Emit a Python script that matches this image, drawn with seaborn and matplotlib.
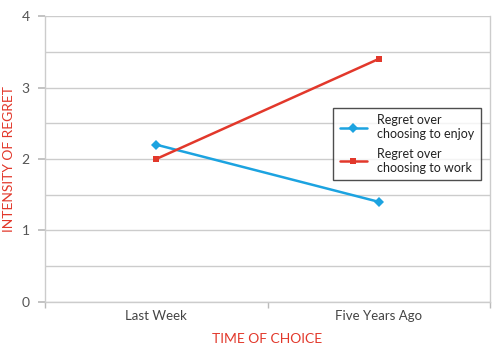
import matplotlib
matplotlib.use("Agg")
import matplotlib.pyplot as plt
import seaborn as sns
import pandas as pd

categories = ["Last Week", "Five Years Ago"]
enjoy = [2.2, 1.4]
work = [2.0, 3.4]
series_names = ["Regret over\nchoosing to enjoy", "Regret over\nchoosing to work"]
colors = ["#1CA3E0", "#E2382B"]

sns.set_theme(style="white")
plt.rcParams['font.family'] = ['Lato', 'DejaVu Sans']

rows = []
for name, vals in zip(series_names, [enjoy, work]):
    for i, (c, v) in enumerate(zip(categories, vals)):
        rows.append({"pos": i, "cat": c, "value": v, "series": name})
df = pd.DataFrame(rows)

fig = plt.figure(figsize=(5, 3.49), dpi=100)
ax = fig.add_axes([0.09, 0.135, 0.89, 0.819])

sns.lineplot(data=df, x="pos", y="value", hue="series", style="series",
             palette=colors, markers=["D", "s"], dashes=False,
             markersize=5, linewidth=1.8, markeredgewidth=0, ax=ax)

ax.set_xlim(-0.5, 1.5)
ax.set_ylim(0, 4)
ax.set_yticks([0, 1, 2, 3, 4])
ax.set_yticks([0.5, 1.5, 2.5, 3.5], minor=True)
ax.grid(True, axis="y", which="both", color="#CCCCCC", linewidth=1)
ax.set_axisbelow(True)
ax.set_xticks([0, 1])
ax.set_xticklabels(categories, fontsize=9.5, color="#444444")
ax.set_xticks([-0.5, 0.5, 1.5], minor=True)
ax.tick_params(axis="x", which="major", length=0, pad=6)
ax.tick_params(axis="x", which="minor", length=4, color="#BBBBBB", width=1, direction="out", bottom=True)
ax.tick_params(axis="y", which="major", length=5, color="#BBBBBB", labelsize=10, labelcolor="#555555", left=True, pad=6)
ax.tick_params(axis="y", which="minor", length=0)
for s in ["left", "right", "bottom"]:
    ax.spines[s].set_visible(True)
    ax.spines[s].set_color("#CCCCCC")
    ax.spines[s].set_linewidth(1)
ax.spines["top"].set_visible(False)

ax.set_xlabel("TIME OF CHOICE", color="#E2382B", fontsize=10, labelpad=8)
ax.set_ylabel("INTENSITY OF REGRET", color="#E2382B", fontsize=10)
ax.yaxis.set_label_coords(-0.068, 0.5)

leg = ax.legend(loc="upper left", bbox_to_anchor=(0.634, 0.70), frameon=True,
                fancybox=False, edgecolor="#222222", fontsize=9,
                handlelength=2.2, labelspacing=0.6, borderpad=0.5, title=None)
leg.get_frame().set_linewidth(1)
for t in leg.get_texts():
    t.set_color("#222222")

fig.savefig("out.png", dpi=100)
